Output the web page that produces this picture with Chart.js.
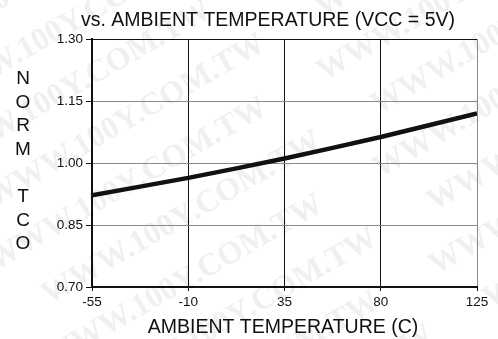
<!DOCTYPE html>
<html>
<head>
<meta charset="utf-8">
<script src="https://cdn.jsdelivr.net/npm/chart.js@4.4.1/dist/chart.umd.min.js"></script>
<style>
  html, body { margin: 0; padding: 0; background: #fff; }
  #wrap { width: 498px; height: 339px; position: relative; }
</style>
</head>
<body>
<div id="wrap"><canvas id="tcoChart" width="498" height="339"></canvas></div>
<script>
// ================= DATA =================

const temps = [-55, -10, 35, 80, 125];
const normTco = [0.922, 0.964, 1.011, 1.063, 1.120];

const xTicks = [-55, -10, 35, 80, 125];
const yTicks = [0.70, 0.85, 1.00, 1.15, 1.30];

const titleText = "vs. AMBIENT TEMPERATURE (VCC = 5V)";
const xTitleText = "AMBIENT TEMPERATURE (C)";
const yTitleLetters = ["N", "O", "R", "M", "", "T", "C", "O"];
const stampText = "WWW.100Y.COM.TW";

const SANS = "'Liberation Sans', Arial, Helvetica, sans-serif";

// ================= PLUGINS =================

// faint diagonal site stamp behind the plot
const stampPlugin = {
  id: "stamp",
  beforeDraw(chart) {
    const ctx = chart.ctx;
    ctx.save();
    ctx.fillStyle = "#f0f0f0";
    ctx.font = "bold 32px 'Liberation Serif', 'DejaVu Serif', serif";
    ctx.textBaseline = "middle";
    ctx.rotate(-30 * Math.PI / 180);
    for (let row = -4; row < 14; row++) {
      for (let col = -2; col < 4; col++) {
        ctx.fillText(stampText, col * 380 - 140 + (row % 2) * 30, row * 56);
      }
    }
    ctx.restore();
  }
};

// chart title, stacked y title and x title
const labelsPlugin = {
  id: "labels",
  afterDraw(chart) {
    const ctx = chart.ctx;
    ctx.save();
    ctx.fillStyle = "#111";
    ctx.textAlign = "center";
    ctx.textBaseline = "alphabetic";

    ctx.font = "19.5px " + SANS;
    ctx.fillText(titleText, 268, 26);

    ctx.font = "19.5px " + SANS;
    ctx.fillText(xTitleText, 283, 333);

    ctx.font = "19px " + SANS;
    yTitleLetters.forEach((ch, i) => {
      if (ch) ctx.fillText(ch, 23, 84 + i * 23.6);
    });
    ctx.restore();
  }
};

// ================= CHART =================

new Chart(document.getElementById("tcoChart"), {
  type: "line",
  data: {
    datasets: [{
      data: temps.map((t, i) => ({ x: t, y: normTco[i] })),
      borderColor: "#111",
      borderWidth: 4.5,
      pointRadius: 0,
      tension: 0.25,
      fill: false
    }]
  },
  options: {
    responsive: false,
    animation: false,
    events: [],
    layout: { padding: { top: 39, right: 21, left: 0, bottom: 0 } },
    plugins: {
      legend: { display: false },
      tooltip: { enabled: false },
      title: { display: false }
    },
    scales: {
      x: {
        type: "linear",
        min: -55,
        max: 125,
        afterBuildTicks: s => { s.ticks = xTicks.map(v => ({ value: v })); },
        afterFit: s => { s.height = 52; },
        border: { display: true, color: "#111", width: 2 },
        grid: {
          color: c => (c.tick && c.tick.value === 125 ? "#8a8a8a" : "#111"),
          lineWidth: 1,
          tickLength: 4,
          tickColor: "#111"
        },
        ticks: {
          color: "#111",
          padding: 3,
          maxRotation: 0,
          font: { family: SANS, size: 13.5 },
          callback: v => String(v)
        }
      },
      y: {
        min: 0.70,
        max: 1.30,
        afterBuildTicks: s => { s.ticks = yTicks.map(v => ({ value: v })); },
        afterFit: s => { s.width = 92; },
        border: { display: true, color: "#111", width: 2 },
        grid: {
          color: c => (c.tick && Math.abs(c.tick.value - 1.30) < 1e-6 ? "#111" : "#8a8a8a"),
          lineWidth: 1,
          tickLength: 6,
          tickColor: "#111"
        },
        ticks: {
          color: "#111",
          padding: 3,
          font: { family: SANS, size: 13.5 },
          callback: v => v.toFixed(2)
        }
      }
    }
  },
  plugins: [stampPlugin, labelsPlugin]
});
</script>
</body>
</html>
